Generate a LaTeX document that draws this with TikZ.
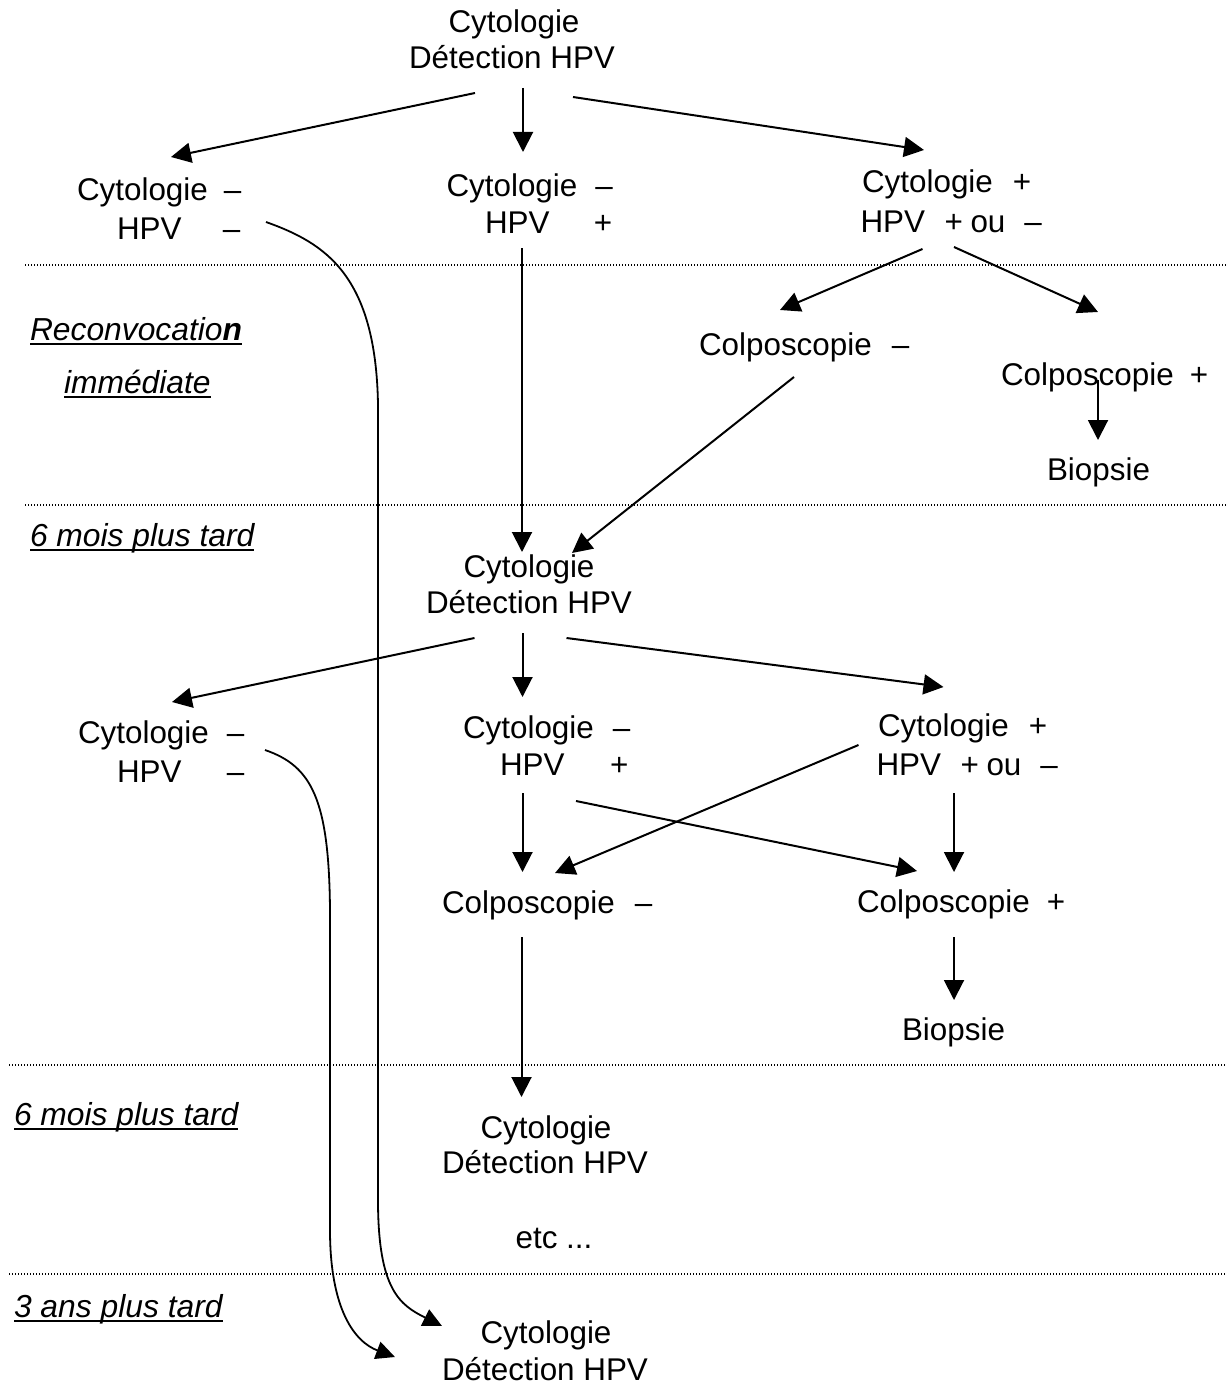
\documentclass[tikz,border=0pt]{standalone}
\usepackage{fontspec}
\setmainfont{Liberation Sans}
\usetikzlibrary{arrows.meta}
\begin{document}
\begin{tikzpicture}[x=1pt,y=-1pt,
  txt/.style={inner sep=0pt,outer sep=0pt,anchor=base west,font=\fontsize{31.4}{36}\selectfont},
  ctxt/.style={inner sep=0pt,outer sep=0pt,anchor=base,font=\fontsize{31.4}{36}\selectfont},
  lab/.style={inner sep=0pt,outer sep=0pt,anchor=base west,font=\fontsize{31.8}{36}\selectfont\itshape},
  arr/.style={line width=2pt,-{Triangle[length=20pt,width=20pt]}},
  curv/.style={line width=1.8pt,-{Triangle[length=19pt,width=18pt]}},
  sep/.style={line width=1.2pt,dash pattern=on 1.2pt off 1.8pt,black},
  ul/.style={line width=2pt}]
\useasboundingbox (0,0) rectangle (1226,1386);

% separators
\draw[sep] (25,265) -- (1226,265);
\draw[sep] (25,505) -- (1226,505);
\draw[sep] (9,1065) -- (1226,1065);
\draw[sep] (9,1274) -- (1226,1274);

% left labels
\node[lab] (recon) at (30,340) {Reconvocatio{\bfseries n}};
\node[lab] (immed) at (64,393) {immédiate};
\node[lab] (six1) at (30,546) {6 mois plus tard};
\node[lab] (six2) at (14,1125) {6 mois plus tard};
\node[lab] (trois) at (14,1317) {3 ans plus tard};
\foreach \n in {recon,immed,six1,six2,trois}
  \draw[ul] ([yshift=-4pt]\n.base west) -- ([yshift=-4pt]\n.base east);

% stage 1
\node[ctxt] (t1a) at (514,33) {Cytologie};
\node[ctxt] (t1b) at (512,69) {Détection HPV};

\node[txt] (l1a) at (77,200) {\makebox[147pt][l]{Cytologie}–};
\node[txt] (l1b) at (117,239) {\makebox[106pt][l]{HPV}–};

\node[txt] (m1a) at (446.5,196) {\makebox[149pt][l]{Cytologie}–};
\node[txt] (m1b) at (485,233) {\makebox[109pt][l]{HPV}+};

\node[txt] (r1a) at (862,192) {\makebox[151pt][l]{Cytologie}+};
\node[txt] (r1b) at (860.5,232) {\makebox[84pt][l]{HPV}\makebox[26pt][l]{+}\makebox[54pt][l]{ou}–};

\node[txt] (cm1) at (699,355) {\makebox[193pt][l]{Colposcopie}–};
\node[txt] (cp1) at (1001,385) {\makebox[189pt][l]{Colposcopie}+};
\node[txt] (bio1) at (1047,480) {Biopsie};

% stage 2
\node[ctxt] (t2a) at (529,577) {Cytologie};
\node[ctxt] (t2b) at (529,613) {Détection HPV};

\node[txt] (l2a) at (78,743) {\makebox[149pt][l]{Cytologie}–};
\node[txt] (l2b) at (117,782) {\makebox[110pt][l]{HPV}–};

\node[txt] (m2a) at (463,738) {\makebox[150pt][l]{Cytologie}–};
\node[txt] (m2b) at (500,775) {\makebox[110pt][l]{HPV}+};

\node[txt] (r2a) at (878,736) {\makebox[151pt][l]{Cytologie}+};
\node[txt] (r2b) at (876.5,775) {\makebox[84pt][l]{HPV}\makebox[26pt][l]{+}\makebox[54pt][l]{ou}–};

\node[txt] (cm2) at (442,913) {\makebox[193pt][l]{Colposcopie}–};
\node[txt] (cp2) at (857,912) {\makebox[190pt][l]{Colposcopie}+};
\node[txt] (bio2) at (902,1040) {Biopsie};

% stage 3
\node[ctxt] (t3a) at (546,1138) {Cytologie};
\node[ctxt] (t3b) at (545,1173) {Détection HPV};
\node[txt] (etc) at (515.6,1248) {etc ...};
\node[ctxt] (t4a) at (546,1343) {Cytologie};
\node[ctxt] (t4b) at (545,1380) {Détection HPV};

% arrow end points
\coordinate (s1l) at (475,93);   \coordinate (e1l) at (171,157);
\coordinate (s1m) at (523,88);   \coordinate (e1m) at (523,152);
\coordinate (s1r) at (573,97);   \coordinate (e1r) at (924,150);
\coordinate (sm1) at (522,248);  \coordinate (em1) at (522,552);
\coordinate (sr1a) at (922.5,249); \coordinate (er1a) at (780,310);
\coordinate (sr1b) at (954,247); \coordinate (er1b) at (1098,312);
\coordinate (scm1) at (794,377); \coordinate (ecm1) at (572,553);
\coordinate (scp1) at (1098,380); \coordinate (ecp1) at (1098,440);

\coordinate (s2l) at (474.5,638); \coordinate (e2l) at (172,702);
\coordinate (s2m) at (522.5,633); \coordinate (e2m) at (522.5,697);
\coordinate (s2r) at (566.5,638); \coordinate (e2r) at (943.5,687);
\coordinate (sm2a) at (522.5,793); \coordinate (em2a) at (522.5,872);
\coordinate (sm2b) at (576,801);   \coordinate (em2b) at (917,871);
\coordinate (sr2a) at (858.5,745); \coordinate (er2a) at (555,873);
\coordinate (sr2b) at (954,793);   \coordinate (er2b) at (954,872);
\coordinate (scp2) at (954,937);   \coordinate (ecp2) at (954,1000);
\coordinate (scm2) at (521.5,937); \coordinate (ecm2) at (521.5,1097);

\coordinate (c1s) at (266,222); \coordinate (c1e) at (442,1326);
\coordinate (c2s) at (265,750); \coordinate (c2e) at (395,1357);

% arrows
\draw[arr] (s1l) -- (e1l);
\draw[arr] (s1m) -- (e1m);
\draw[arr] (s1r) -- (e1r);
\draw[arr] (sm1) -- (em1);
\draw[arr] (sr1a) -- (er1a);
\draw[arr] (sr1b) -- (er1b);
\draw[arr] (scm1) -- (ecm1);
\draw[arr] (scp1) -- (ecp1);

\draw[arr] (s2l) -- (e2l);
\draw[arr] (s2m) -- (e2m);
\draw[arr] (s2r) -- (e2r);
\draw[arr] (sm2a) -- (em2a);
\draw[arr] (sm2b) -- (em2b);
\draw[arr] (sr2a) -- (er2a);
\draw[arr] (sr2b) -- (er2b);
\draw[arr] (scp2) -- (ecp2);
\draw[arr] (scm2) -- (ecm2);

% long curved connectors
\draw[curv] (c1s) .. controls (325,243) and (376,275) .. (378,405)
  -- (378,1200) .. controls (378,1290) and (400,1305) .. (c1e);
\draw[curv] (c2s) .. controls (312,766) and (329,800) .. (330,910)
  -- (330,1230) .. controls (330,1310) and (355,1342) .. (c2e);
\end{tikzpicture}
\end{document}
